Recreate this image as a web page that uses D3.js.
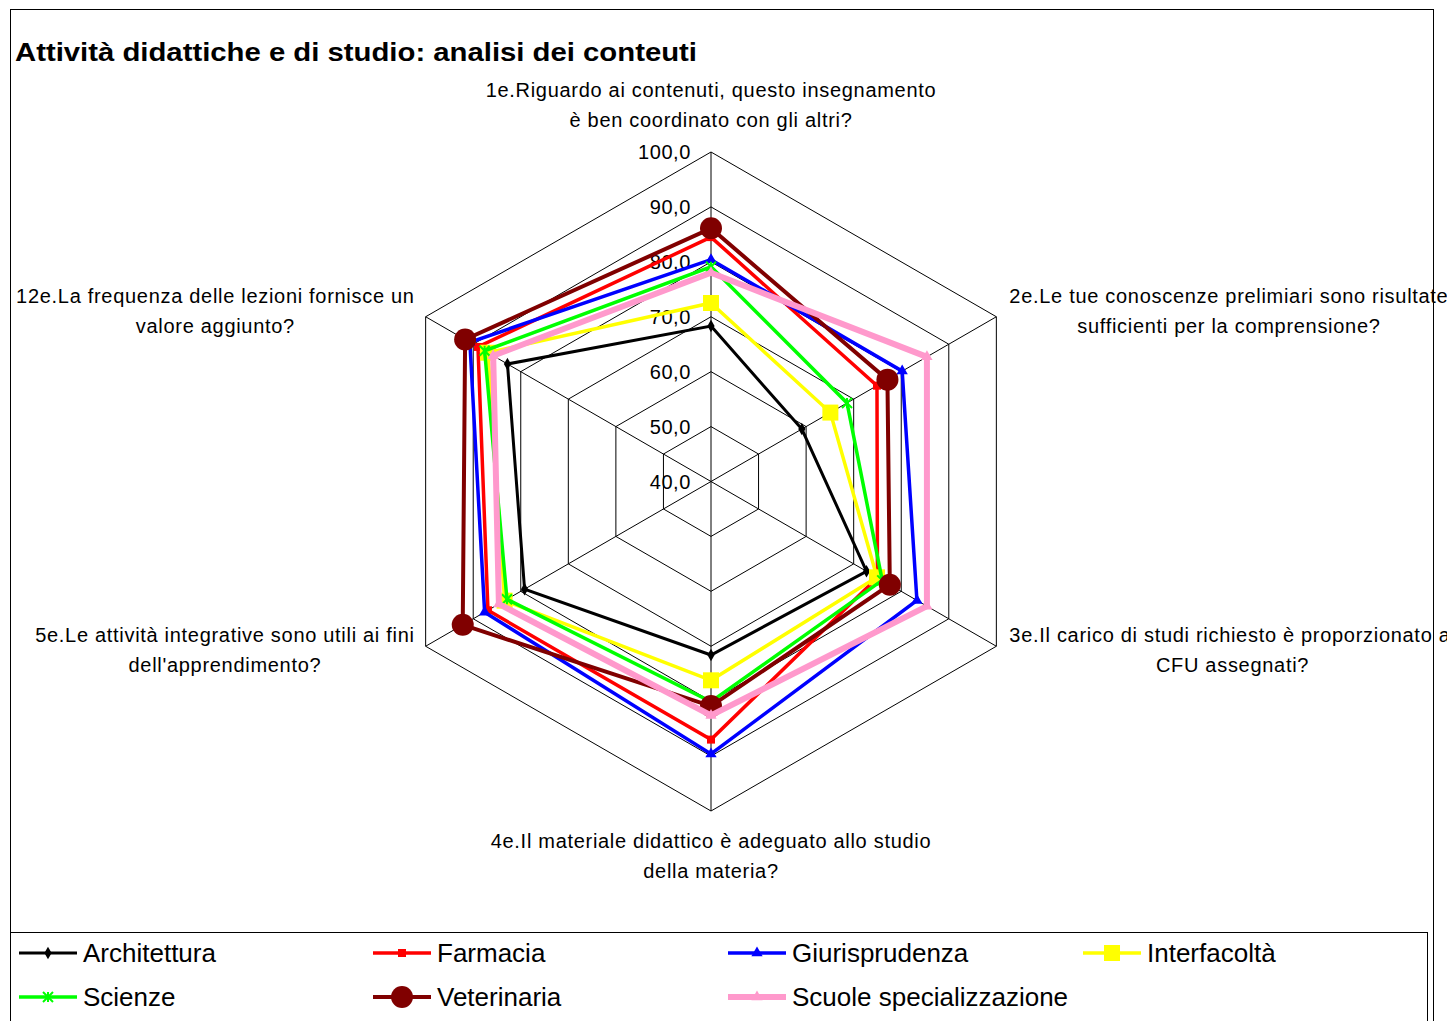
<!DOCTYPE html>
<html><head><meta charset="utf-8">
<script src="https://cdn.jsdelivr.net/npm/d3@7"></script>
<style>
html,body{margin:0;padding:0;background:#fff;}
svg{display:block;}
text{font-family:"Liberation Sans",Arial,sans-serif;fill:#000;}
</style></head>
<body>
<svg id="chart" width="1447" height="1021"></svg>
<script>
// ---------- DATA ----------
const title = "Attività didattiche e di studio: analisi dei conteuti";
const axisLabels = [
  ["1e.Riguardo ai contenuti, questo insegnamento", "è ben coordinato con gli altri?"],
  ["2e.Le tue conoscenze prelimiari sono risultate", "sufficienti per la comprensione?"],
  ["3e.Il carico di studi richiesto è proporzionato ai", "CFU assegnati?"],
  ["4e.Il materiale didattico è adeguato allo studio", "della materia?"],
  ["5e.Le attività integrative sono utili ai fini", "dell'apprendimento?"],
  ["12e.La frequenza delle lezioni fornisce un", "valore aggiunto?"]
];
const tickValues = [40, 50, 60, 70, 80, 90, 100];
const tickLabels = ["40,0", "50,0", "60,0", "70,0", "80,0", "90,0", "100,0"];
const seriesNames = ["Architettura", "Farmacia", "Giurisprudenza", "Interfacoltà", "Scienze", "Veterinaria", "Scuole specializzazione"];
const architettura   = [68.3, 59.1, 72.7, 71.6, 79.2, 82.8];
const farmacia       = [84.5, 74.9, 75.0, 87.0, 86.9, 89.0];
const giurisprudenza = [80.4, 80.2, 83.3, 89.6, 87.6, 90.7];
const interfacolta   = [72.5, 65.1, 74.9, 76.2, 83.4, 86.9];
const scienze        = [79.1, 68.6, 76.0, 80.1, 82.9, 87.6];
const veterinaria    = [86.1, 77.1, 77.6, 80.9, 92.2, 91.7];
const scuole         = [78.0, 85.4, 85.4, 82.6, 84.6, 85.8];
const seriesValues = [architettura, farmacia, giurisprudenza, interfacolta, scienze, veterinaria, scuole];

// ---------- STYLES ----------
const styles = [
  {color:"#000000", width:3,   marker:"diamond",  size:45},
  {color:"#FF0000", width:3.5, marker:"square",   size:64},
  {color:"#0000FF", width:3.5, marker:"triangle", size:55},
  {color:"#FFFF00", width:3.5, marker:"square",   size:256},
  {color:"#00FF00", width:3.5, marker:"asterisk", size:10},
  {color:"#800000", width:4,   marker:"circle",   size:380},
  {color:"#FF99CC", width:6,   marker:"triangle", size:55}
];

const svg = d3.select("#chart");
const cx = 711, cy = 481.5, R = 329.5;
const r = d3.scaleLinear().domain([40, 100]).range([0, R]);
const nAx = axisLabels.length;
const angle = d3.scaleLinear().domain([0, nAx]).range([0, 2 * Math.PI]);
const pt = (i, v) => [cx + r(v) * Math.sin(angle(i)), cy - r(v) * Math.cos(angle(i))];

// frame
svg.append("rect").attr("x", 10.5).attr("y", 9.5).attr("width", 1423).attr("height", 1030)
  .attr("fill", "#fff").attr("stroke", "#000").attr("stroke-width", 1);

// title
svg.append("text").attr("x", 15).attr("y", 61).attr("font-size", 26).attr("font-weight", "bold")
  .attr("textLength", 682).attr("lengthAdjust", "spacingAndGlyphs").text(title);

// grid rings
const g = svg.append("g");
tickValues.slice(1).forEach(v => {
  const pts = d3.range(nAx).map(i => pt(i, v));
  g.append("path").attr("d", d3.line()(pts) + "Z").attr("fill", "none").attr("stroke", "#000").attr("stroke-width", 1);
});
d3.range(nAx).forEach(i => {
  const p = pt(i, 100);
  g.append("line").attr("x1", cx).attr("y1", cy).attr("x2", p[0]).attr("y2", p[1]).attr("stroke", "#000").attr("stroke-width", 1);
});

// tick labels
tickValues.forEach((v, k) => {
  svg.append("text").attr("x", cx - 20).attr("y", cy - r(v) + 7).attr("text-anchor", "end")
    .attr("font-size", 20).attr("letter-spacing", 0.6).text(tickLabels[k]);
});

// axis labels
axisLabels.forEach((lines, i) => {
  const p = pt(i, 100);
  const t = svg.append("text").attr("font-size", 20).attr("text-anchor", "middle").attr("letter-spacing", 0.7);
  lines.forEach((s, j) => t.append("tspan").attr("dy", j ? 30 : 0).text(s));
  const spans = t.selectAll("tspan").nodes();
  const maxW = d3.max(spans, n => n.getComputedTextLength());
  let x, y0;
  const sx = Math.sin(angle(i));
  const upper = p[1] < cy;
  if (Math.abs(sx) < 0.01) {
    x = p[0];
    y0 = upper ? p[1] - 55 : p[1] + 37;
  } else if (sx > 0) {
    x = p[0] + 13 + maxW / 2; y0 = upper ? p[1] - 14 : p[1] - 4;
  } else {
    x = p[0] - 11 - maxW / 2; y0 = upper ? p[1] - 14 : p[1] - 4;
  }
  t.attr("x", x).attr("y", y0);
  t.selectAll("tspan").attr("x", x);
});

// markers
function drawMarker(sel, st, x, y) {
  if (st.marker === "asterisk") {
    const s = st.size / 2;
    sel.append("path").attr("d",
      `M${x - s},${y - s}L${x + s},${y + s}M${x - s},${y + s}L${x + s},${y - s}M${x},${y - s}L${x},${y + s}`)
      .attr("stroke", st.color).attr("stroke-width", 2).attr("fill", "none");
    return;
  }
  const type = {diamond: d3.symbolDiamond, square: d3.symbolSquare, triangle: d3.symbolTriangle, circle: d3.symbolCircle}[st.marker];
  sel.append("path").attr("d", d3.symbol().type(type).size(st.size)())
    .attr("transform", `translate(${x},${y})`).attr("fill", st.color);
}

// series
const lineGen = d3.line();
seriesValues.forEach((vals, s) => {
  const st = styles[s];
  const pts = vals.map((v, i) => pt(i, v));
  const gs = svg.append("g");
  gs.append("path").attr("d", lineGen(pts) + "Z").attr("fill", "none")
    .attr("stroke", st.color).attr("stroke-width", st.width).attr("stroke-linejoin", "miter");
  pts.forEach(p => drawMarker(gs, st, p[0], p[1]));
});

// legend
svg.append("rect").attr("x", 10.5).attr("y", 932.5).attr("width", 1417).attr("height", 120)
  .attr("fill", "#fff").attr("stroke", "#000").attr("stroke-width", 1);
const legCols = [19, 373, 728, 1083];
const legRows = [953, 997];
seriesNames.forEach((name, s) => {
  const st = styles[s];
  const x0 = legCols[s % 4], y = legRows[Math.floor(s / 4)];
  const lg = svg.append("g");
  lg.append("line").attr("x1", x0).attr("x2", x0 + 58).attr("y1", y).attr("y2", y)
    .attr("stroke", st.color).attr("stroke-width", st.width);
  drawMarker(lg, st, x0 + 29, y);
  lg.append("text").attr("x", x0 + 64).attr("y", y + 9).attr("font-size", 26).text(name);
});
</script>
</body></html>
